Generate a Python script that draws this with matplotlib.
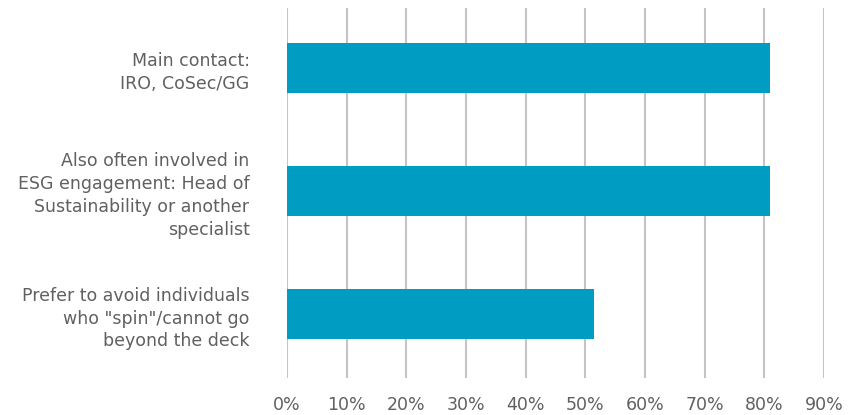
import matplotlib.pyplot as plt

categories = ['Main contact:\nIRO, CoSec/GG',
              'Also often involved in\nESG engagement: Head of\nSustainability or another\nspecialist',
              'Prefer to avoid individuals\nwho "spin"/cannot go\nbeyond the deck']
values = [81, 81, 51.5]
xticks = [0, 10, 20, 30, 40, 50, 60, 70, 80, 90]

plt.rcParams['font.family'] = ['DejaVu Sans']

fig = plt.figure(figsize=(8.49, 4.15), dpi=100)
ax = fig.add_axes([287 / 849, 1 - 378 / 415, (824 - 287) / 849, 370 / 415])

ypos = range(len(categories))
ax.barh(ypos, values, height=0.41, color='#009CC2', zorder=3)

ax.set_xlim(0, 90)
ax.set_ylim(2.52, -0.49)
ax.set_xticks(xticks)
ax.set_xticklabels([f'{t}%' for t in xticks])
ax.set_yticks(list(ypos))
ax.set_yticklabels(categories, linespacing=1.35)

ax.grid(axis='x', color='#c4c4c4', linewidth=1.5, zorder=0)
for s in ax.spines.values():
    s.set_visible(False)
ax.tick_params(axis='both', length=0, labelsize=12.5, colors='#606060')
ax.tick_params(axis='y', pad=27)
ax.tick_params(axis='x', pad=13)

fig.savefig('out.png', dpi=100)
